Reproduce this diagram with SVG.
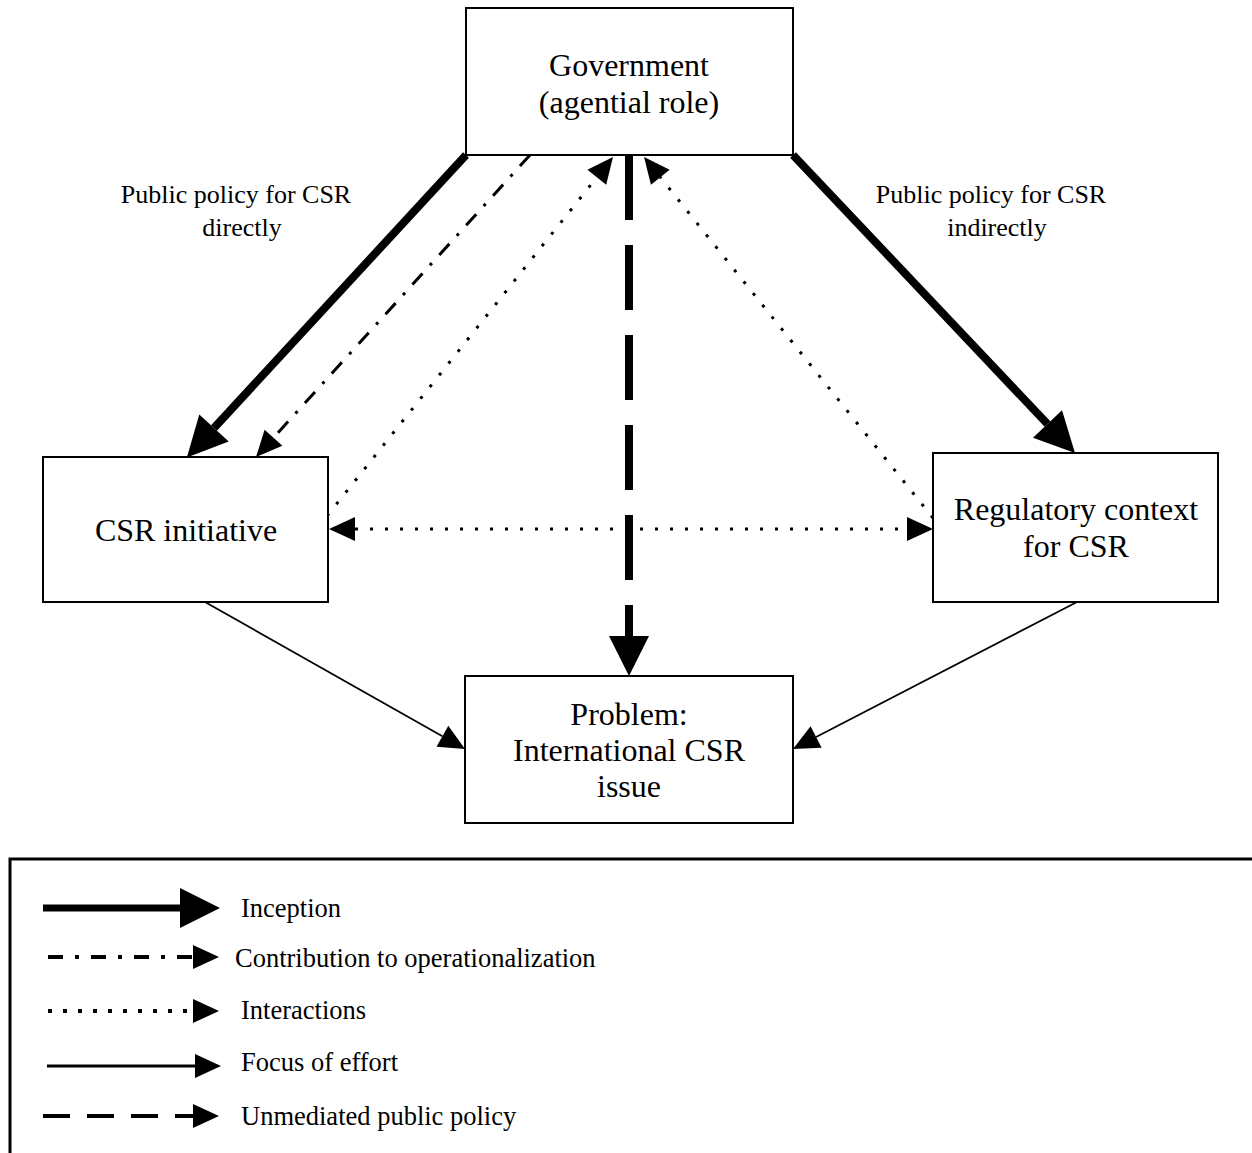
<svg xmlns="http://www.w3.org/2000/svg" width="1252" height="1153" viewBox="0 0 1252 1153">
<style>
.box{fill:#fff;stroke:#000;stroke-width:2}
.t{font-family:"Liberation Serif","Times New Roman",serif;fill:#000}
.node{font-size:32px;text-anchor:middle}
.lbl{font-size:26px;text-anchor:middle}
.leg{font-size:26.5px}
.e{fill:none;stroke:#000}
.inc{stroke-width:8}
.dd{stroke-width:3;stroke-dasharray:15 11 3 11}
.dot{stroke-width:3;stroke-dasharray:3 12}
.foc{stroke-width:1.8}
.unm{stroke-width:8;stroke-dasharray:65 25}
</style>
<defs>
<marker id="big" markerUnits="userSpaceOnUse" markerWidth="42" markerHeight="42" refX="0" refY="20" orient="auto" viewBox="0 0 42 42" overflow="visible"><path d="M0,0 L40,20 L0,40 z" fill="#000"/></marker>
<marker id="sm" markerUnits="userSpaceOnUse" markerWidth="28" markerHeight="26" refX="0" refY="12" orient="auto-start-reverse" viewBox="0 0 28 26" overflow="visible"><path d="M0,0 L26,12 L0,24 z" fill="#000"/></marker>
</defs>
<g id="connectors">
<line class="e inc" x1="466" y1="155" x2="214" y2="428" marker-end="url(#big)"/>
<line class="e inc" x1="793" y1="155" x2="1047.5" y2="424" marker-end="url(#big)"/>
<line class="e dd" x1="530" y1="155" x2="273.5" y2="437.7" marker-end="url(#sm)"/>
<line class="e dot" x1="327" y1="516" x2="596.8" y2="177.3" marker-end="url(#sm)"/>
<line class="e dot" x1="933" y1="518" x2="660.3" y2="177.3" marker-end="url(#sm)"/>
<line class="e dot" x1="355" y1="529" x2="907" y2="529" marker-start="url(#sm)" marker-end="url(#sm)"/>
<line class="e unm" x1="629" y1="155" x2="629" y2="636" marker-end="url(#big)"/>
<line class="e foc" x1="205" y1="602" x2="442.4" y2="736.2" marker-end="url(#sm)"/>
<line class="e foc" x1="1077" y1="602" x2="816.1" y2="737" marker-end="url(#sm)"/>
</g>
<g id="government">
<rect class="box" x="466" y="8" width="327" height="147"/>
<text class="t node" x="629" y="76">Government</text>
<text class="t node" x="629" y="113">(agential role)</text>
</g>
<g id="csr-initiative">
<rect class="box" x="43" y="457" width="285" height="145"/>
<text class="t node" x="186" y="541">CSR initiative</text>
</g>
<g id="regulatory-context">
<rect class="box" x="933" y="453" width="285" height="149"/>
<text class="t node" x="1076" y="520">Regulatory context</text>
<text class="t node" x="1076" y="557">for CSR</text>
</g>
<g id="problem">
<rect class="box" x="465" y="676" width="328" height="147"/>
<text class="t node" x="629" y="725">Problem:</text>
<text class="t node" x="629" y="761">International CSR</text>
<text class="t node" x="629" y="797">issue</text>
</g>
<g id="edge-labels">
<text class="t lbl" x="236" y="203">Public policy for CSR</text>
<text class="t lbl" x="242" y="236">directly</text>
<text class="t lbl" x="991" y="203">Public policy for CSR</text>
<text class="t lbl" x="997" y="236">indirectly</text>
</g>
<g id="legend">
<rect x="10" y="859" width="1300" height="400" fill="none" stroke="#000" stroke-width="3"/>
<line class="e" stroke-width="7" x1="43" y1="908" x2="180" y2="908" marker-end="url(#big)"/>
<text class="t leg" x="241" y="917">Inception</text>
<line class="e" stroke-width="4" stroke-dasharray="15 12 4 12" x1="48" y1="957" x2="193" y2="957" marker-end="url(#sm)"/>
<text class="t leg" x="235" y="967">Contribution to operationalization</text>
<line class="e" stroke-width="4" stroke-dasharray="4 11" x1="48" y1="1011" x2="193" y2="1011" marker-end="url(#sm)"/>
<text class="t leg" x="241" y="1019">Interactions</text>
<line class="e" stroke-width="3" x1="47" y1="1066" x2="195" y2="1066" marker-end="url(#sm)"/>
<text class="t leg" x="241" y="1071">Focus of effort</text>
<line class="e" stroke-width="4" stroke-dasharray="27 17" x1="43" y1="1116" x2="193" y2="1116" marker-end="url(#sm)"/>
<text class="t leg" x="241" y="1125">Unmediated public policy</text>
</g>
</svg>
